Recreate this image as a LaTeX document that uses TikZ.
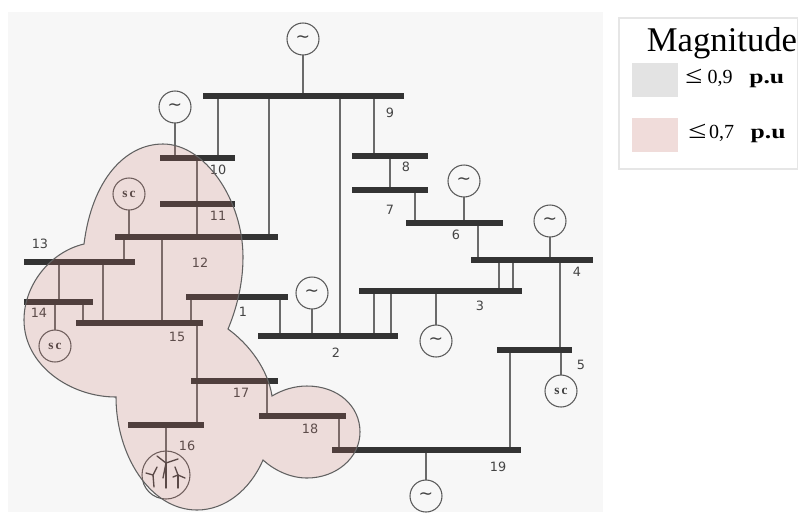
\documentclass[tikz,border=0pt]{standalone}
\usepackage{fontspec}
\setmainfont{Liberation Serif}
\newfontfamily\lblfont{DejaVu Sans}
\definecolor{busc}{HTML}{333333}
\definecolor{linec}{HTML}{6A6A6A}
\definecolor{ringc}{HTML}{5A5A5A}
\definecolor{bgc}{HTML}{F7F7F7}
\definecolor{blobc}{RGB}{197,112,102}
\definecolor{framec}{HTML}{E6E6E6}
\definecolor{lblc}{HTML}{444444}
\definecolor{swpink}{HTML}{F0DCDA}
\definecolor{swgray}{HTML}{E3E3E3}
\newcommand{\tld}{{\lblfont\fontsize{13}{13}\selectfont ∼}}
\tikzset{
  busbar/.style={fill=busc,draw=none,rectangle,inner sep=0pt,minimum height=4.2pt},
  conn/.style={draw=linec,line width=1.1pt},
  gen/.style={circle,draw=ringc,line width=.8pt,fill=bgc,minimum size=24pt,inner sep=0pt,font=\fontsize{9}{9}\selectfont,text=black!75},
  scg/.style={gen,font=\bfseries\fontsize{10}{10}\selectfont},
  lbl/.style={inner sep=0pt,font=\lblfont\fontsize{9.6}{10}\selectfont,text=lblc},
  blade/.style={draw=black!75,line width=1pt,line cap=round},
  leg/.style={inner sep=0pt,anchor=west,font=\fontsize{15}{15}\selectfont},
}
\newcommand{\busbar}[4]{\node[busbar,minimum width={(#3-#2)*0.75pt},minimum height=4.2pt] (#1) at ({(#2+#3)/2},#4) {};}
\newcommand{\link}[3]{\draw[conn] (#3,0 |- #1.center) -- (#3,0 |- #2.center);}
\newcommand{\tap}[2]{\draw[conn] (#2.center) -- (#2.center |- #1.center);}
\newcommand{\zonepath}{(84,244) .. controls (92,180) and (125,144) .. (163,144)
  .. controls (205,144) and (243,200) .. (243,257)
  .. controls (243,285) and (236,310) .. (228,329)
  .. controls (250,345) and (268,370) .. (272,396)
  .. controls (282,390) and (294,386) .. (307,386)
  .. controls (338,386) and (360,406) .. (360,432)
  .. controls (360,458) and (336,478) .. (307,478)
  .. controls (290,478) and (274,470) .. (263,460)
  .. controls (250,490) and (225,510) .. (197,510)
  .. controls (150,510) and (116,455) .. (116,397)
  .. controls (70,397) and (24,365) .. (24,320)
  .. controls (24,285) and (50,252) .. (84,244) -- cycle}
\begin{document}
\begin{tikzpicture}[x=0.75pt,y=-0.75pt]
\useasboundingbox (0,0) rectangle (798,512);
\fill[bgc] (8,12) rectangle (603,512);
% legend
\node[draw=framec,fill=white,line width=.8pt,rectangle,inner sep=0pt,minimum width=134.25pt,minimum height=113.25pt] (legend) at (708.5,93.5) {};
\node[inner sep=0pt,font=\fontsize{26}{26}\selectfont] (ttl) at (722,43) {Magnitude};
\node[fill=swgray,minimum width=34.5pt,minimum height=25.5pt,inner sep=0pt] (sw1) at (655,80) {};
\node[fill=swpink,minimum width=34.5pt,minimum height=25.5pt,inner sep=0pt] (sw2) at (655,135) {};
\node[leg] (t1) at (685,78) {\scalebox{1.55}[1.25]{≤}\hspace{4pt}0,9\hspace{12.5pt}\scalebox{1.28}[1]{\textbf{p.u}}};
\node[leg] (t2) at (688,133) {\scalebox{1.65}[1.25]{≤}\hspace{2pt}0,7\hspace{12.5pt}\scalebox{1.28}[1]{\textbf{p.u}}};
% buses
\busbar{b9}{203}{404}{96}
\busbar{b10}{160}{235}{158}
\busbar{b11}{160}{235}{204}
\busbar{b12}{115}{278}{237}
\busbar{b13}{24}{135}{262}
\busbar{b14}{24}{93}{302}
\busbar{b15}{76}{203}{323}
\busbar{b1}{186}{288}{297}
\busbar{b2}{258}{398}{336}
\busbar{b3}{359}{522}{291}
\busbar{b4}{471}{593}{260}
\busbar{b5}{497}{572}{350}
\busbar{b6}{406}{503}{223}
\busbar{b7}{352}{428}{190}
\busbar{b8}{352}{428}{156}
\busbar{b17}{191}{278}{381}
\busbar{b18}{259}{346}{416}
\busbar{b16}{128}{204}{425}
\busbar{b19}{332}{521}{450}
% connectors
\link{b9}{b10}{218}
\link{b9}{b12}{269}
\link{b9}{b2}{340}
\link{b9}{b8}{374}
\link{b10}{b12}{197}
\link{b12}{b13}{124}
\link{b12}{b15}{162}
\link{b13}{b14}{59}
\link{b13}{b15}{103}
\link{b14}{b15}{83}
\link{b1}{b15}{191}
\link{b1}{b2}{280}
\link{b15}{b16}{197}
\link{b17}{b18}{267}
\link{b18}{b19}{339}
\link{b5}{b19}{510}
\link{b3}{b2}{374}
\link{b3}{b2}{391}
\link{b4}{b3}{499}
\link{b4}{b3}{513}
\link{b4}{b5}{560}
\link{b6}{b4}{478}
\link{b7}{b6}{415}
\link{b8}{b7}{390}
% coordinates for the sources (rings are drawn over their stubs)
\coordinate (cg9) at (303,39);
\coordinate (cg10) at (175,107);
\coordinate (cg2) at (312,293);
\coordinate (cg3) at (436,341);
\coordinate (cg6) at (464,181);
\coordinate (cg4) at (550,221);
\coordinate (cg19) at (426,496);
\coordinate (cs12) at (129,194);
\coordinate (cs14) at (55,346);
\coordinate (cs5) at (561,391);
\coordinate (cw16) at (166,475);
\tap{b9}{cg9}
\tap{b10}{cg10}
\tap{b2}{cg2}
\tap{b3}{cg3}
\tap{b6}{cg6}
\tap{b4}{cg4}
\tap{b19}{cg19}
\tap{b12}{cs12}
\tap{b14}{cs14}
\tap{b5}{cs5}
\tap{b16}{cw16}
% bus bars above the connectors
\foreach \a/\b/\y in {203/404/96,160/235/158,160/235/204,115/278/237,24/135/262,24/93/302,76/203/323,186/288/297,258/398/336,359/522/291,471/593/260,497/572/350,406/503/223,352/428/190,352/428/156,191/278/381,259/346/416,128/204/425,332/521/450}
  {\fill[busc] (\a,\y-2.8) rectangle (\b,\y+2.8);}
% sources
\node[gen] (g9) at (cg9) {\tld};
\node[gen] (g10) at (cg10) {\tld};
\node[gen] (g2) at (cg2) {\tld};
\node[gen] (g3) at (cg3) {\tld};
\node[gen] (g6) at (cg6) {\tld};
\node[gen] (g4) at (cg4) {\tld};
\node[gen] (g19) at (cg19) {\tld};
\node[scg] (s12) at (cs12) {s\,c};
\node[scg] (s14) at (cs14) {s\,c};
\node[scg] (s5) at (cs5) {s\,c};
\node[gen,minimum size=36pt,fill=none] (w16) at (cw16) {};
% wind turbines
\draw[blade] (166,463) -- (166,488);
\draw[blade] (166,463) -- (157,456);
\draw[blade] (166,463) -- (178,459);
\draw[blade] (166,463) -- (163,478);
\draw[blade] (153,475) -- (154,487);
\draw[blade] (153,475) -- (146,473);
\draw[blade] (153,475) -- (157,467);
\draw[blade] (178,475) -- (178,488);
\draw[blade] (178,475) -- (175,467);
\draw[blade] (178,475) -- (185,478);
\draw[blade] (178,475) -- (173,477);
% labels
\node[lbl] (l9) at (390,113) {9};
\node[lbl] (l8) at (406,167) {8};
\node[lbl] (l7) at (390,210) {7};
\node[lbl] (l6) at (456,235) {6};
\node[lbl] (l4) at (577,272) {4};
\node[lbl] (l3) at (480,306) {3};
\node[lbl] (l5) at (581,365) {5};
\node[lbl] (l2) at (336,353) {2};
\node[lbl] (l1) at (243,312) {1};
\node[lbl] (l10) at (218,170) {10};
\node[lbl] (l11) at (218,216) {11};
\node[lbl] (l12) at (200,263) {12};
\node[lbl] (l13) at (40,244) {13};
\node[lbl] (l14) at (39,313) {14};
\node[lbl] (l15) at (177,337) {15};
\node[lbl] (l17) at (241,393) {17};
\node[lbl] (l18) at (310,429) {18};
\node[lbl] (l16) at (187,446) {16};
\node[lbl] (l19) at (498,467) {19};
% affected zone
\fill[blobc,fill opacity=.2] \zonepath;
\draw[draw=black!62,line width=.8pt,line join=miter] \zonepath;
\end{tikzpicture}
\end{document}
